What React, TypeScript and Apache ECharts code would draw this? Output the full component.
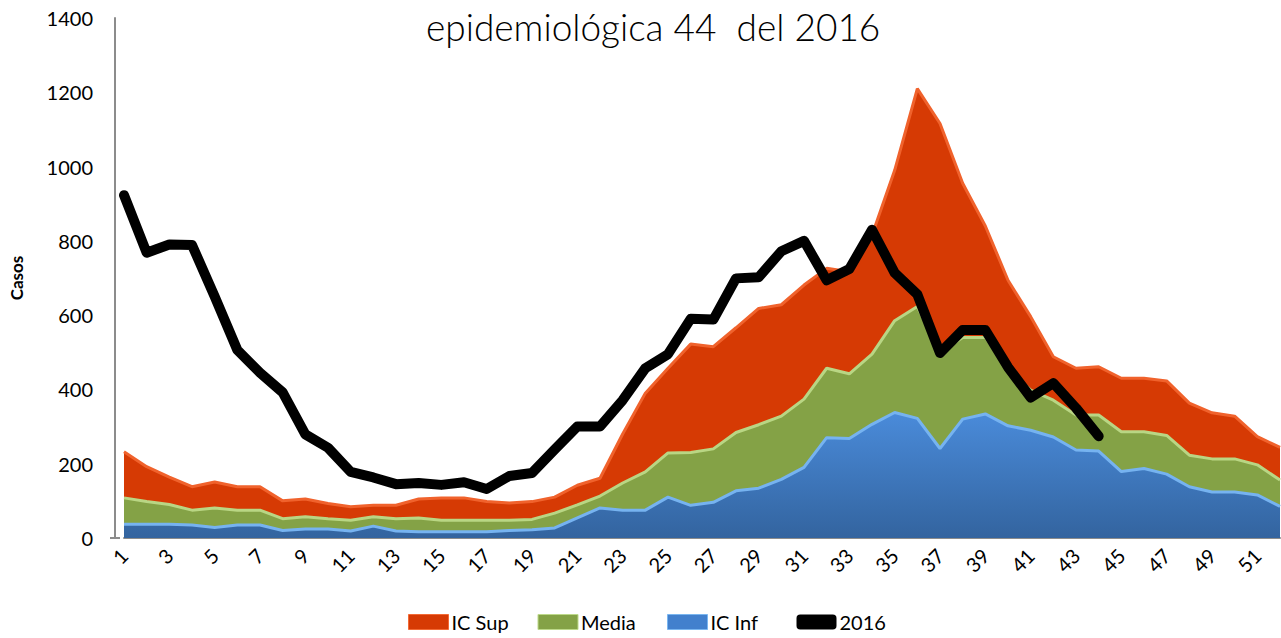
import React, { useEffect, useRef } from 'react';
import * as echarts from 'echarts';

const weeks = [
  '1', '2', '3', '4', '5', '6', '7', '8', '9', '10', '11', '12', '13',
  '14', '15', '16', '17', '18', '19', '20', '21', '22', '23', '24', '25', '26',
  '27', '28', '29', '30', '31', '32', '33', '34', '35', '36', '37', '38', '39',
  '40', '41', '42', '43', '44', '45', '46', '47', '48', '49', '50', '51', '52',
];

const icSup = [
  232, 192, 164, 138, 151, 138, 138, 100, 105, 93, 84, 88, 88,
  105, 108, 108, 98, 94, 98, 110, 142, 161, 280, 390, 457, 522,
  515, 566, 618, 628, 681, 726, 717, 815, 990, 1210, 1116, 955, 840,
  694, 596, 488, 457, 461, 430, 430, 423, 363, 337, 328, 273, 244,
];

const media = [
  108, 98, 90, 75, 81, 75, 75, 52, 57, 52, 48, 57, 52,
  54, 48, 48, 48, 48, 50, 67, 89, 113, 148, 178, 229, 230,
  240, 284, 305, 328, 374, 457, 442, 495, 585, 623, 500, 540, 540,
  455, 398, 371, 331, 331, 286, 286, 276, 223, 213, 213, 197, 156,
];

const icInf = [
  37, 37, 37, 35, 28, 35, 35, 20, 24, 24, 19, 32, 19,
  17, 17, 17, 17, 20, 22, 27, 54, 81, 75, 75, 110, 88,
  96, 127, 134, 158, 190, 270, 268, 306, 338, 322, 241, 320, 334,
  302, 290, 272, 237, 234, 179, 187, 172, 138, 124, 124, 116, 85,
];

const year2016 = [
  923, 768, 790, 789, 650, 506, 445, 392, 279, 243, 178, 163, 145,
  148, 143, 150, 132, 167, 175, 238, 300, 300, 371, 457, 495, 590,
  588, 699, 702, 772, 800, 694, 724, 830, 714, 656, 498, 560, 560,
  460, 378, 417, 350, 274,
];

const FONT = 'Lato, "Noto Sans", sans-serif';

export default function App() {
  const ref = useRef<HTMLDivElement>(null);

  useEffect(() => {
    const chart = echarts.init(ref.current as HTMLDivElement, null, { renderer: 'svg' });
    chart.setOption({
      animation: false,
      backgroundColor: '#ffffff',
      title: {
        text: 'epidemiológica 44  del 2016',
        left: 421,
        top: 3,
        textStyle: { fontFamily: FONT, fontWeight: 300, fontSize: 37, color: '#000' },
      },
      legend: {
        left: 403,
        top: 606,
        itemWidth: 40,
        itemHeight: 15,
        itemGap: 18,
        textStyle: {
          fontFamily: FONT,
          fontSize: 20,
          lineHeight: 22,
          color: '#000',
          width: 68,
          padding: [0, 0, 0, -2],
        },
        data: [
          { name: 'IC Sup', icon: 'rect', itemStyle: { color: '#D63A04', borderColor: '#F36A35', borderWidth: 1 } },
          { name: 'Media', icon: 'rect', itemStyle: { color: '#84A246', borderColor: '#BDD98A', borderWidth: 1 } },
          { name: 'IC Inf', icon: 'rect', itemStyle: { color: '#4280CD', borderColor: '#7AB6F0', borderWidth: 1 } },
          { name: '2016', icon: 'roundRect', itemStyle: { color: '#000' } },
        ],
      },
      grid: { left: 119, right: 1, top: 18, bottom: 100, containLabel: false },
      xAxis: {
        type: 'category',
        data: weeks,
        boundaryGap: false,
        axisLine: { lineStyle: { color: '#8c8c8c', width: 2 } },
        axisTick: { show: false },
        axisLabel: {
          interval: 1,
          rotate: 45,
          margin: 14,
          fontFamily: FONT,
          fontSize: 20,
          color: '#000',
        },
        splitLine: { show: false },
      },
      yAxis: {
        type: 'value',
        min: 0,
        max: 1400,
        interval: 200,
        offset: 9,
        name: 'Casos',
        nameLocation: 'middle',
        nameGap: 90,
        nameRotate: 90,
        nameTextStyle: { fontFamily: FONT, fontWeight: 'bold', fontSize: 17, color: '#000' },
        axisLine: { show: true, lineStyle: { color: '#8c8c8c', width: 2 } },
        axisTick: { show: false },
        axisLabel: {
          margin: 22,
          fontFamily: FONT,
          fontSize: 20,
          color: '#000',
          formatter: (v: number) => String(v),
        },
        splitLine: { show: false },
      },
      graphic: [
        {
          type: 'line',
          shape: { x1: 110, y1: 538, x2: 120, y2: 538 },
          style: { stroke: '#8c8c8c', lineWidth: 2 },
        },
      ],
      series: [
        {
          name: 'IC Sup',
          type: 'line',
          data: icSup,
          symbol: 'none',
          lineStyle: { color: '#F0622C', width: 3 },
          itemStyle: { color: '#D63A04' },
          areaStyle: { color: '#D63A04', opacity: 1 },
          z: 1,
        },
        {
          name: 'Media',
          type: 'line',
          data: media,
          symbol: 'none',
          lineStyle: { color: '#B9D684', width: 3 },
          itemStyle: { color: '#84A246' },
          areaStyle: { color: '#84A246', opacity: 1 },
          z: 2,
        },
        {
          name: 'IC Inf',
          type: 'line',
          data: icInf,
          symbol: 'none',
          lineStyle: { color: '#76B3F0', width: 3 },
          itemStyle: { color: '#4280CD' },
          areaStyle: {
            opacity: 1,
            color: new echarts.graphic.LinearGradient(0, 0, 0, 1, [
              { offset: 0, color: '#4A8BDA' },
              { offset: 1, color: '#33649F' },
            ]),
          },
          z: 3,
        },
        {
          name: '2016',
          type: 'line',
          data: year2016,
          symbol: 'none',
          lineStyle: { color: '#000', width: 10, cap: 'round', join: 'round' },
          itemStyle: { color: '#000' },
          z: 4,
        },
      ],
    });
    return () => chart.dispose();
  }, []);

  return (
    <div
      ref={ref}
      style={{ position: 'fixed', left: 0, top: 0, width: 1281, height: 638, background: '#fff' }}
    />
  );
}
